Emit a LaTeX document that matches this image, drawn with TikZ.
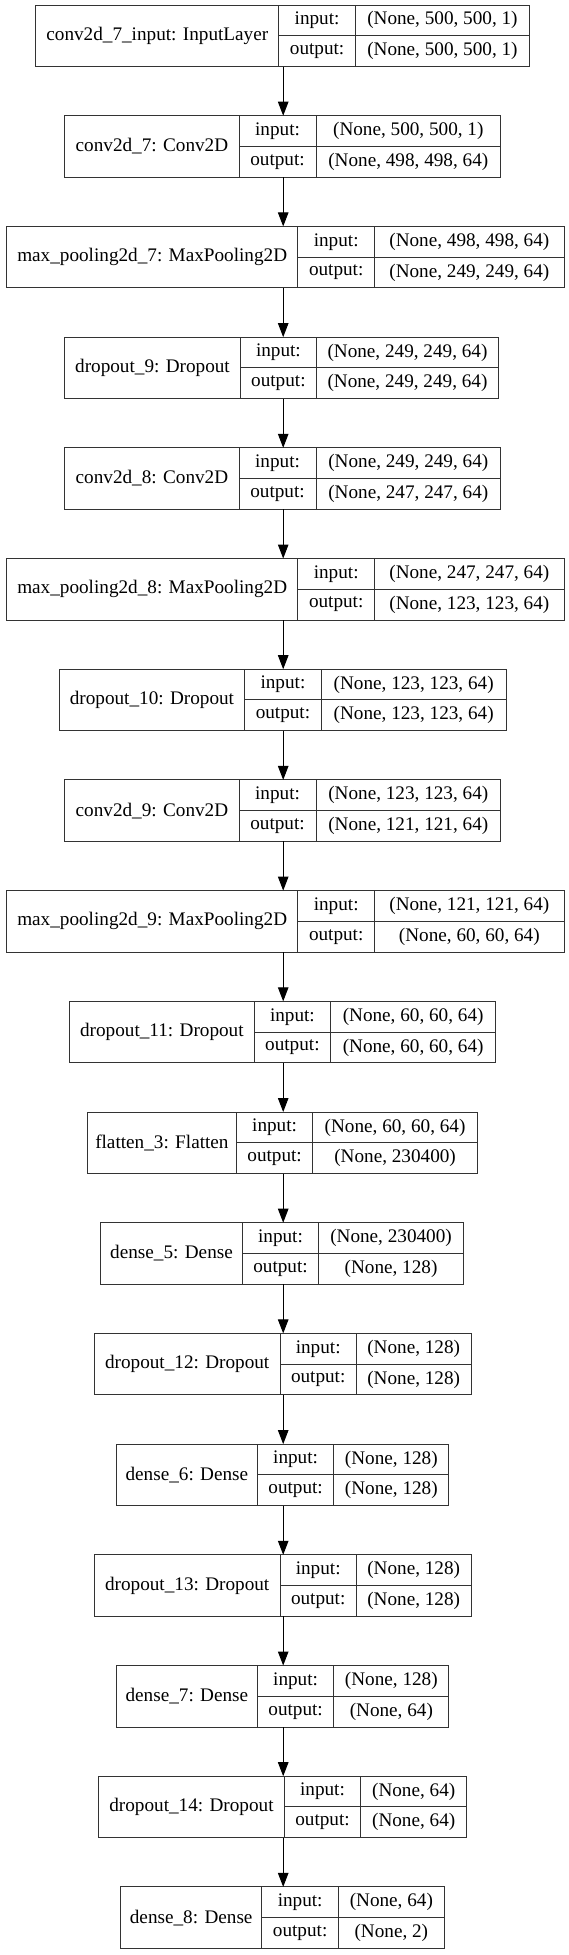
\documentclass[tikz,border=0pt]{standalone}
\usepackage{fontspec}
\setmainfont{Liberation Serif}
\usetikzlibrary{arrows.meta}
\definecolor{bordergray}{HTML}{333333}
\tikzset{
  layerbox/.style={draw=bordergray, line width=1pt, inner sep=0pt, outer sep=0pt, anchor=north west},
  cellbox/.style={draw=bordergray, line width=1pt, inner sep=0pt, outer sep=0pt, anchor=north west, align=center},
  flowarrow/.style={draw=black, line width=1pt, -{Triangle[length=14pt,width=10.5pt]}}
}
\newcommand{\kerasLayer}[9]{%
  \pgfmathsetmacro\kytop{5+110.7*#2}%
  \pgfmathsetmacro\kymid{\kytop+30.75}%
  \pgfmathsetmacro\kwbox{#6-#3}%
  \pgfmathsetmacro\kwlab{#4-#3}%
  \pgfmathsetmacro\kwio{#5-#4}%
  \pgfmathsetmacro\kwval{#6-#5}%
  \node[layerbox, minimum width=\kwbox pt, minimum height=61.5pt] (#1) at (#3,\kytop) {};
  \node[cellbox, minimum width=\kwlab pt, minimum height=61.5pt] (#1-label) at (#3,\kytop) {#7};
  \node[cellbox, minimum width=\kwio pt, minimum height=30.75pt] (#1-inkey) at (#4,\kytop) {input:};
  \node[cellbox, minimum width=\kwio pt, minimum height=30.75pt] (#1-outkey) at (#4,\kymid) {output:};
  \node[cellbox, minimum width=\kwval pt, minimum height=30.75pt] (#1-inval) at (#5,\kytop) {#8};
  \node[cellbox, minimum width=\kwval pt, minimum height=30.75pt] (#1-outval) at (#5,\kymid) {#9};
}
\begin{document}
\begin{tikzpicture}[x=1pt,y=-1pt]
\fontsize{19.2pt}{22pt}\selectfont
\fill[white] (0,0) rectangle (569,1955);
\useasboundingbox (0,0) rectangle (569,1955);
\coordinate (axis) at (283.2,0);
\kerasLayer{inputlayer}{0}{35.7}{278.9}{355.3}{529.6}{conv2d\_7\_input: InputLayer}{(None, 500, 500, 1)}{(None, 500, 500, 1)}
\kerasLayer{convA}{1}{64.8}{239.1}{316.0}{500.6}{conv2d\_7: Conv2D}{(None, 500, 500, 1)}{(None, 498, 498, 64)}
\kerasLayer{poolA}{2}{6.7}{297.7}{374.7}{564}{max\_pooling2d\_7: MaxPooling2D}{(None, 498, 498, 64)}{(None, 249, 249, 64)}
\kerasLayer{dropA}{3}{64.8}{240.2}{316.6}{498.4}{dropout\_9: Dropout}{(None, 249, 249, 64)}{(None, 249, 249, 64)}
\kerasLayer{convB}{4}{64.8}{239.1}{316.0}{500.6}{conv2d\_8: Conv2D}{(None, 249, 249, 64)}{(None, 247, 247, 64)}
\kerasLayer{poolB}{5}{6.7}{297.7}{374.7}{564}{max\_pooling2d\_8: MaxPooling2D}{(None, 247, 247, 64)}{(None, 123, 123, 64)}
\kerasLayer{dropB}{6}{59.4}{244.5}{321.4}{506.0}{dropout\_10: Dropout}{(None, 123, 123, 64)}{(None, 123, 123, 64)}
\kerasLayer{convC}{7}{64.8}{239.1}{316.0}{500.6}{conv2d\_9: Conv2D}{(None, 123, 123, 64)}{(None, 121, 121, 64)}
\kerasLayer{poolC}{8}{6.7}{297.7}{374.7}{564}{max\_pooling2d\_9: MaxPooling2D}{(None, 121, 121, 64)}{(None, 60, 60, 64)}
\kerasLayer{dropC}{9}{69.6}{254.2}{330.6}{495.7}{dropout\_11: Dropout}{(None, 60, 60, 64)}{(None, 60, 60, 64)}
\kerasLayer{flat}{10}{87.4}{236.4}{312.8}{477.4}{flatten\_3: Flatten}{(None, 60, 60, 64)}{(None, 230400)}
\kerasLayer{denseA}{11}{100.8}{242.3}{318.7}{463.4}{dense\_5: Dense}{(None, 230400)}{(None, 128)}
\kerasLayer{dropD}{12}{94.4}{280.0}{356.4}{471.0}{dropout\_12: Dropout}{(None, 128)}{(None, 128)}
\kerasLayer{denseB}{13}{116.4}{257.4}{333.8}{448.9}{dense\_6: Dense}{(None, 128)}{(None, 128)}
\kerasLayer{dropE}{14}{94.4}{280.0}{356.4}{471.0}{dropout\_13: Dropout}{(None, 128)}{(None, 128)}
\kerasLayer{denseC}{15}{116.4}{257.4}{333.8}{448.9}{dense\_7: Dense}{(None, 128)}{(None, 64)}
\kerasLayer{dropF}{16}{98.7}{284.3}{360.7}{466.7}{dropout\_14: Dropout}{(None, 64)}{(None, 64)}
\kerasLayer{denseD}{17}{120.7}{261.7}{338.6}{444.1}{dense\_8: Dense}{(None, 64)}{(None, 2)}
\draw[flowarrow] (axis |- inputlayer.south) -- (axis |- convA.north);
\draw[flowarrow] (axis |- convA.south) -- (axis |- poolA.north);
\draw[flowarrow] (axis |- poolA.south) -- (axis |- dropA.north);
\draw[flowarrow] (axis |- dropA.south) -- (axis |- convB.north);
\draw[flowarrow] (axis |- convB.south) -- (axis |- poolB.north);
\draw[flowarrow] (axis |- poolB.south) -- (axis |- dropB.north);
\draw[flowarrow] (axis |- dropB.south) -- (axis |- convC.north);
\draw[flowarrow] (axis |- convC.south) -- (axis |- poolC.north);
\draw[flowarrow] (axis |- poolC.south) -- (axis |- dropC.north);
\draw[flowarrow] (axis |- dropC.south) -- (axis |- flat.north);
\draw[flowarrow] (axis |- flat.south) -- (axis |- denseA.north);
\draw[flowarrow] (axis |- denseA.south) -- (axis |- dropD.north);
\draw[flowarrow] (axis |- dropD.south) -- (axis |- denseB.north);
\draw[flowarrow] (axis |- denseB.south) -- (axis |- dropE.north);
\draw[flowarrow] (axis |- dropE.south) -- (axis |- denseC.north);
\draw[flowarrow] (axis |- denseC.south) -- (axis |- dropF.north);
\draw[flowarrow] (axis |- dropF.south) -- (axis |- denseD.north);
\end{tikzpicture}
\end{document}
